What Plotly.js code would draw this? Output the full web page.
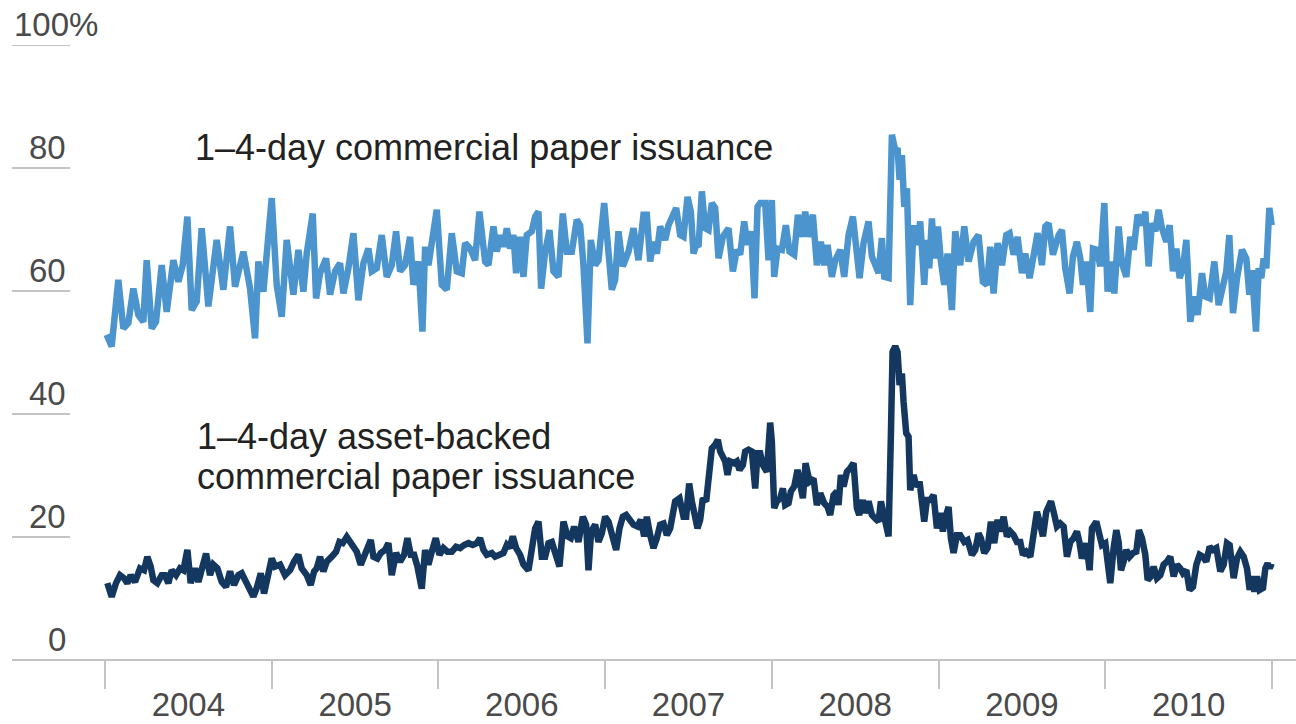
<!DOCTYPE html>
<html>
<head>
<meta charset="utf-8">
<script src="https://cdn.plot.ly/plotly-3.0.1.min.js"></script>
<style>html,body{margin:0;padding:0;background:#fff;}#chart{width:1296px;height:724px;}</style>
</head>
<body>
<div id="chart"></div>
<script>
// 1–4-day commercial paper issuance (share, %)
const cpYears = [2004.010,2004.040,2004.080,2004.110,2004.140,2004.170,2004.200,2004.230,2004.250,2004.280,2004.306,2004.340,2004.370,2004.410,2004.440,2004.466,2004.494,2004.520,2004.550,2004.580,2004.620,2004.670,2004.710,2004.750,2004.780,2004.830,2004.870,2004.900,2004.920,2004.950,2005.000,2005.030,2005.060,2005.090,2005.130,2005.160,
2005.190,2005.210,2005.246,2005.266,2005.290,2005.326,2005.350,2005.380,2005.410,2005.430,2005.460,2005.490,2005.520,2005.550,2005.580,2005.600,2005.630,2005.660,2005.690,2005.720,2005.746,2005.770,2005.800,2005.830,2005.850,2005.880,2005.904,2005.920,2005.940,2005.960,2005.990,2006.020,2006.050,2006.080,2006.110,2006.140,2006.160,2006.190,2006.220,2006.246,
2006.280,2006.300,2006.330,2006.350,2006.370,2006.390,2006.410,2006.430,2006.450,2006.466,2006.490,2006.510,2006.530,2006.560,2006.580,2006.600,2006.616,2006.640,2006.666,2006.690,2006.720,2006.746,2006.770,2006.800,2006.830,2006.850,2006.870,2006.894,2006.914,2006.940,2006.960,2006.994,2007.020,2007.040,2007.060,2007.080,2007.106,2007.140,2007.170,2007.200,2007.230,2007.250,2007.270,2007.290,2007.310,2007.330,2007.360,2007.380,
2007.426,2007.450,2007.470,2007.494,2007.514,2007.530,2007.546,2007.560,2007.580,2007.600,2007.620,2007.640,2007.660,2007.680,2007.706,2007.740,2007.766,2007.790,2007.810,2007.834,2007.854,2007.876,2007.896,2007.914,2007.930,2007.960,2007.980,2008.000,2008.014,2008.034,2008.060,2008.084,2008.106,2008.134,2008.156,2008.180,2008.200,2008.220,2008.246,2008.270,2008.294,2008.314,2008.334,2008.360,2008.380,2008.410,2008.434,2008.460,2008.486,2008.510,2008.526,2008.550,2008.580,
2008.600,2008.620,2008.640,2008.660,2008.674,2008.700,2008.720,2008.740,2008.754,2008.766,2008.780,2008.794,2008.810,2008.830,2008.850,2008.870,2008.890,2008.914,2008.930,2008.944,2008.960,2008.976,2008.996,2009.014,2009.034,2009.054,2009.080,2009.100,2009.130,2009.154,2009.180,2009.210,2009.240,2009.266,2009.290,2009.310,2009.330,2009.354,2009.380,2009.406,2009.426,2009.450,2009.474,2009.500,2009.520,2009.546,2009.570,2009.594,2009.620,2009.640,2009.660,2009.686,2009.720,
2009.740,2009.760,2009.786,2009.806,2009.830,2009.850,2009.866,2009.886,2009.910,2009.926,2009.950,2009.970,2009.994,2010.014,2010.034,2010.054,2010.080,2010.100,2010.126,2010.150,2010.170,2010.194,2010.220,2010.240,2010.260,2010.280,2010.300,2010.320,2010.340,2010.366,2010.386,2010.406,2010.426,2010.446,2010.466,2010.486,2010.510,2010.534,2010.554,2010.580,2010.600,2010.626,2010.654,2010.680,2010.706,2010.726,2010.744,2010.766,2010.790,2010.820,2010.846,2010.864,2010.880,2010.904,2010.920,2010.936,2010.950,2010.966,2010.984,2010.998];
const cpValues = [52.9,51.0,61.8,53.9,54.8,60.4,56.1,55.0,65.0,53.9,55.0,64.2,56.6,65.0,61.5,64.2,72.1,56.9,58.3,70.2,57.5,68.3,60.2,70.5,60.7,66.4,60.4,52.3,64.8,59.9,75.1,61.0,55.8,68.3,59.4,66.7,
59.9,66.1,72.6,58.8,62.9,65.3,59.4,63.2,64.5,59.6,63.7,69.4,58.5,64.5,66.9,63.2,63.7,69.1,62.3,64.2,69.7,63.2,64.2,68.8,61.0,64.8,53.4,67.2,64.2,68.0,73.2,61.0,60.2,69.4,63.2,62.9,67.8,66.9,65.0,72.9,
64.8,64.2,70.5,66.4,69.1,67.2,70.2,66.9,69.1,62.9,68.8,62.3,69.1,69.7,72.1,72.9,60.4,66.4,69.9,63.2,62.3,72.6,66.4,66.4,71.6,70.7,64.2,51.5,68.3,64.2,65.0,74.3,65.3,60.2,61.8,69.7,64.0,66.4,70.2,65.0,72.4,72.4,64.8,68.0,66.1,70.5,68.3,70.7,
73.5,69.1,68.8,75.3,72.9,66.1,67.5,67.2,76.2,70.2,69.9,74.3,73.5,65.3,68.8,70.2,63.2,66.7,65.9,71.3,67.5,69.7,58.8,73.7,74.3,74.3,65.0,74.8,62.3,66.9,66.7,70.7,66.4,65.9,72.4,68.8,72.9,68.8,72.4,64.2,68.0,64.2,67.5,62.3,65.0,66.7,62.3,69.1,72.1,65.6,62.1,67.8,71.3,
65.6,64.2,62.9,68.6,62.3,62.1,85.4,82.9,83.2,78.1,82.1,73.7,76.7,57.7,70.7,67.5,71.3,61.0,68.3,63.7,71.8,65.3,70.5,64.8,61.0,66.1,56.9,69.7,64.2,70.5,64.8,68.0,69.1,61.5,61.0,67.2,59.6,67.8,64.2,69.1,69.4,65.9,68.8,62.9,66.1,62.1,65.6,69.4,64.2,70.5,71.0,65.9,69.1,
69.9,63.7,59.6,65.6,68.0,65.3,61.0,64.8,56.6,66.9,66.7,64.0,74.3,59.9,64.8,59.6,70.5,64.5,62.3,68.8,66.7,72.4,70.7,72.9,64.0,71.0,69.7,73.2,70.2,68.0,70.7,63.2,66.9,62.1,63.7,68.3,55.0,59.1,56.1,62.9,59.1,58.8,64.8,57.7,61.0,63.2,69.1,56.4,62.1,66.7,65.3,59.4,63.4,53.4,63.7,62.1,65.3,63.7,73.5,70.7];

// 1–4-day asset-backed commercial paper issuance (share, %)
const abcpYears = [2004.014,2004.040,2004.066,2004.090,2004.114,2004.134,2004.154,2004.180,2004.210,2004.234,2004.254,2004.274,2004.290,2004.314,2004.340,2004.360,2004.380,2004.400,2004.426,2004.450,2004.470,2004.494,2004.514,2004.540,2004.560,2004.580,2004.606,2004.630,2004.650,2004.674,2004.700,2004.726,2004.750,2004.774,2004.800,2004.820,2004.840,2004.864,2004.890,2004.910,2004.934,2004.954,2004.980,2005.000,2005.020,2005.050,2005.080,2005.110,2005.134,2005.160,
2005.180,2005.210,2005.234,2005.254,2005.270,2005.290,2005.310,2005.330,2005.360,2005.386,2005.406,2005.426,2005.450,2005.470,2005.490,2005.510,2005.534,2005.554,2005.574,2005.594,2005.610,2005.634,2005.654,2005.680,2005.700,2005.720,2005.746,2005.770,2005.794,2005.814,2005.834,2005.854,2005.874,2005.900,2005.920,2005.940,2005.960,2005.984,2006.006,2006.030,2006.054,2006.080,2006.106,2006.130,2006.154,2006.180,2006.206,2006.230,2006.250,
2006.270,2006.290,2006.320,2006.340,2006.360,2006.390,2006.410,2006.426,2006.446,2006.466,2006.490,2006.510,2006.540,2006.560,2006.580,2006.600,2006.620,2006.640,2006.660,2006.680,2006.700,2006.726,2006.750,2006.774,2006.794,2006.814,2006.840,2006.866,2006.886,2006.900,2006.916,2006.940,2006.960,2006.980,2007.000,2007.020,2007.044,2007.066,2007.086,2007.106,2007.126,2007.146,2007.170,2007.194,2007.214,2007.234,2007.250,2007.270,2007.290,2007.310,2007.330,2007.350,2007.370,2007.390,
2007.420,2007.446,2007.470,2007.486,2007.504,2007.520,2007.534,2007.554,2007.570,2007.586,2007.606,2007.620,2007.640,2007.660,2007.676,2007.690,2007.710,2007.720,2007.734,2007.750,2007.774,2007.790,2007.806,2007.826,2007.840,2007.860,2007.880,2007.900,2007.914,2007.930,2007.946,2007.970,2007.990,2008.000,2008.014,2008.030,2008.050,2008.066,2008.080,2008.100,2008.114,2008.134,2008.154,2008.170,2008.186,2008.202,2008.226,2008.250,2008.270,2008.290,2008.314,2008.334,2008.350,2008.370,2008.390,2008.400,2008.414,2008.430,2008.450,2008.470,2008.490,2008.510,2008.524,
2008.546,2008.560,2008.580,2008.600,2008.620,2008.640,2008.654,2008.670,2008.686,2008.700,2008.714,2008.724,2008.740,2008.754,2008.766,2008.780,2008.790,2008.806,2008.820,2008.830,2008.850,2008.866,2008.886,2008.900,2008.914,2008.930,2008.950,2008.970,2008.990,2009.010,2009.026,2009.046,2009.060,2009.074,2009.090,2009.110,2009.130,2009.154,2009.174,2009.200,2009.220,2009.240,2009.254,2009.274,2009.294,2009.314,2009.334,2009.354,2009.370,2009.390,2009.410,2009.430,2009.450,2009.470,2009.490,2009.506,2009.526,2009.550,2009.570,2009.590,2009.610,2009.626,2009.646,2009.674,
2009.690,2009.710,2009.730,2009.750,2009.770,2009.790,2009.810,2009.830,2009.846,2009.860,2009.874,2009.886,2009.906,2009.920,2009.946,2009.966,2009.980,2010.000,2010.014,2010.030,2010.050,2010.066,2010.080,2010.094,2010.110,2010.126,2010.146,2010.166,2010.186,2010.202,2010.220,2010.240,2010.254,2010.274,2010.290,2010.310,2010.330,2010.350,2010.370,2010.390,2010.410,2010.430,2010.450,2010.466,2010.486,2010.506,2010.526,2010.546,2010.566,2010.586,2010.606,2010.626,2010.646,2010.666,2010.690,2010.710,2010.730,2010.746,2010.770,2010.790,2010.810,2010.830,2010.850,2010.866,2010.880,2010.894,2010.910,2010.926,2010.946,2010.960,2010.974,2010.986,2010.998];
const abcpValues = [12.5,10.3,12.5,13.8,13.3,12.5,13.8,12.7,14.9,14.6,16.8,15.2,13.0,12.5,13.8,13.8,12.5,14.6,13.8,14.9,14.6,17.9,12.5,14.9,12.7,14.9,17.3,13.8,15.5,14.9,12.7,11.9,14.4,12.2,13.8,14.1,13.0,12.2,10.3,11.7,14.1,10.8,14.4,16.5,15.2,15.5,13.8,14.6,16.0,17.1,
14.9,13.8,12.2,14.4,14.9,16.8,14.4,16.0,16.8,17.6,19.2,19.0,20.0,19.2,18.2,17.6,15.5,16.8,18.2,19.5,16.8,16.5,17.4,17.9,19.0,13.8,17.4,16.0,17.1,19.8,17.1,17.1,15.2,11.6,17.9,15.5,17.6,19.8,17.1,18.2,17.6,17.6,18.4,18.2,18.7,19.0,18.7,19.0,19.8,
17.9,17.1,17.4,16.8,17.1,17.4,18.7,18.2,20.1,18.2,17.1,15.5,14.6,18.2,21.4,22.5,16.8,16.8,19.0,19.2,17.1,15.2,22.5,20.1,19.8,21.7,19.2,23.3,22.0,14.6,20.9,22.0,19.2,20.6,23.3,22.5,20.1,17.9,21.4,23.3,23.6,23.0,22.0,21.7,22.8,20.1,23.3,20.3,18.2,19.8,22.0,22.2,20.3,21.4,
25.8,26.3,23.3,23.3,28.7,25.8,23.3,21.4,22.8,26.3,25.8,29.5,34.4,35.0,35.8,33.9,33.1,32.3,30.1,32.3,32.0,32.3,30.9,31.7,33.9,34.2,33.9,27.9,33.6,33.6,31.7,30.6,38.6,35.5,24.7,25.8,26.3,27.9,25.2,25.5,27.4,28.2,30.9,28.2,26.3,32.0,29.0,29.5,25.2,27.1,25.5,24.9,23.6,26.8,27.4,25.2,30.1,28.2,30.6,31.2,32.0,24.7,23.6,
26.0,23.9,25.8,23.6,23.0,22.5,25.8,23.6,20.9,20.1,36.6,50.1,51.0,50.1,44.7,46.6,42.0,36.9,36.3,27.6,30.1,28.2,29.0,25.2,22.5,26.0,26.0,26.8,21.4,23.9,20.9,23.6,24.9,19.8,17.4,20.3,20.3,19.2,19.5,17.1,17.9,20.6,19.8,17.4,18.2,22.5,19.0,22.8,20.9,23.3,20.1,20.9,20.3,19.2,19.2,17.1,17.6,16.8,20.3,24.1,22.0,20.1,24.1,25.8,
24.1,21.7,22.2,21.7,16.8,19.2,19.8,20.9,19.0,16.5,17.6,19.0,14.6,21.4,22.5,20.6,18.7,19.0,15.5,12.5,18.2,21.1,19.2,14.6,16.0,17.9,16.8,17.4,17.6,21.1,19.8,17.1,13.0,13.6,15.2,13.3,13.8,15.5,16.0,16.8,13.6,15.5,14.9,14.1,14.6,11.4,11.9,15.5,17.1,16.8,16.0,18.4,17.9,18.2,14.4,15.5,19.0,18.7,13.3,16.5,17.6,16.8,14.9,11.4,13.6,11.1,13.6,11.4,11.7,14.9,15.7,14.9,15.7];

// Axis labels
const yTickValues = [0, 20, 40, 60, 80, 100];
const yTickLabels = ['0', '20', '40', '60', '80', '100%'];
const yearBoundaries = [2004, 2005, 2006, 2007, 2008, 2009, 2010, 2011];
const yearLabels = ['2004', '2005', '2006', '2007', '2008', '2009', '2010'];

// Series labels
const cpLabel = ['1–4-day commercial paper issuance'];
const abcpLabel = ['1–4-day asset-backed', 'commercial paper issuance'];

const GRID = '#c4c4c4';
const TICKFONT = {family: 'Liberation Sans, Arial, sans-serif', size: 33, color: '#4a4a4a'};
const LABELFONT = {family: 'Liberation Sans, Arial, sans-serif', size: 36, color: '#222222'};

const labelEnd = (70 - 12) / 1284;

const shapes = yTickValues.filter(v => v !== 0).map(v => ({
  type: 'line', xref: 'paper', yref: 'y', x0: 0, x1: labelEnd, y0: v, y1: v,
  line: {color: GRID, width: 2}
}));

const annotations = yTickValues.map((v, i) => {
  const t = yTickLabels[i];
  const pct = t.endsWith('%');
  return {
    xref: 'paper', yref: 'y', x: pct ? 0 : (68 - 12) / 1284, y: v,
    xanchor: pct ? 'left' : 'right', yanchor: 'bottom', yshift: 0,
    text: t, showarrow: false, font: TICKFONT
  };
});

cpLabel.forEach((t, i) => annotations.push({
  xref: 'x', yref: 'y', x: 2004.53, y: 83.3, yshift: -40 * i, xanchor: 'left', yanchor: 'middle',
  text: t, showarrow: false, font: LABELFONT
}));
abcpLabel.forEach((t, i) => annotations.push({
  xref: 'x', yref: 'y', x: 2004.54, y: 36.3, yshift: -40 * i, xanchor: 'left', yanchor: 'middle',
  text: t, showarrow: false, font: LABELFONT
}));

const midpoints = yearLabels.map((_, i) => (yearBoundaries[i] + yearBoundaries[i + 1]) / 2);
const xRange = [2004 - (105 - 12) / 166.7, 2011 + (1296 - 1272) / 166.7];

const traces = [
  {x: cpYears, y: cpValues, type: 'scatter', mode: 'lines', line: {color: '#4b94cd', width: 6.5}, hoverinfo: 'skip'},
  {x: abcpYears, y: abcpValues, type: 'scatter', mode: 'lines', line: {color: '#13375f', width: 6.5}, hoverinfo: 'skip'},
  {x: [yearBoundaries[0]], y: [0], xaxis: 'x2', type: 'scatter', mode: 'markers', marker: {opacity: 0}, hoverinfo: 'skip'}
];

const layout = {
  width: 1296, height: 724,
  margin: {l: 12, r: 0, t: 45, b: 64},
  paper_bgcolor: '#ffffff', plot_bgcolor: '#ffffff',
  showlegend: false,
  xaxis: {
    range: xRange, tickmode: 'array', tickvals: midpoints, ticktext: yearLabels,
    ticks: '', showgrid: false, zeroline: false, showline: false,
    tickfont: TICKFONT, ticklabelstandoff: 22, fixedrange: true
  },
  xaxis2: {
    range: xRange, overlaying: 'x', anchor: 'y', side: 'bottom',
    tickmode: 'array', tickvals: yearBoundaries, ticks: 'outside', ticklen: 28,
    tickwidth: 2, tickcolor: GRID, showticklabels: false, showgrid: false,
    zeroline: false, showline: false, fixedrange: true
  },
  yaxis: {
    range: [0, 100], showticklabels: false, ticks: '', showgrid: false,
    zeroline: true, zerolinecolor: GRID, zerolinewidth: 2, showline: false, fixedrange: true
  },
  shapes: shapes,
  annotations: annotations
};

Plotly.newPlot('chart', traces, layout, {displayModeBar: false, staticPlot: true});
</script>
</body>
</html>
